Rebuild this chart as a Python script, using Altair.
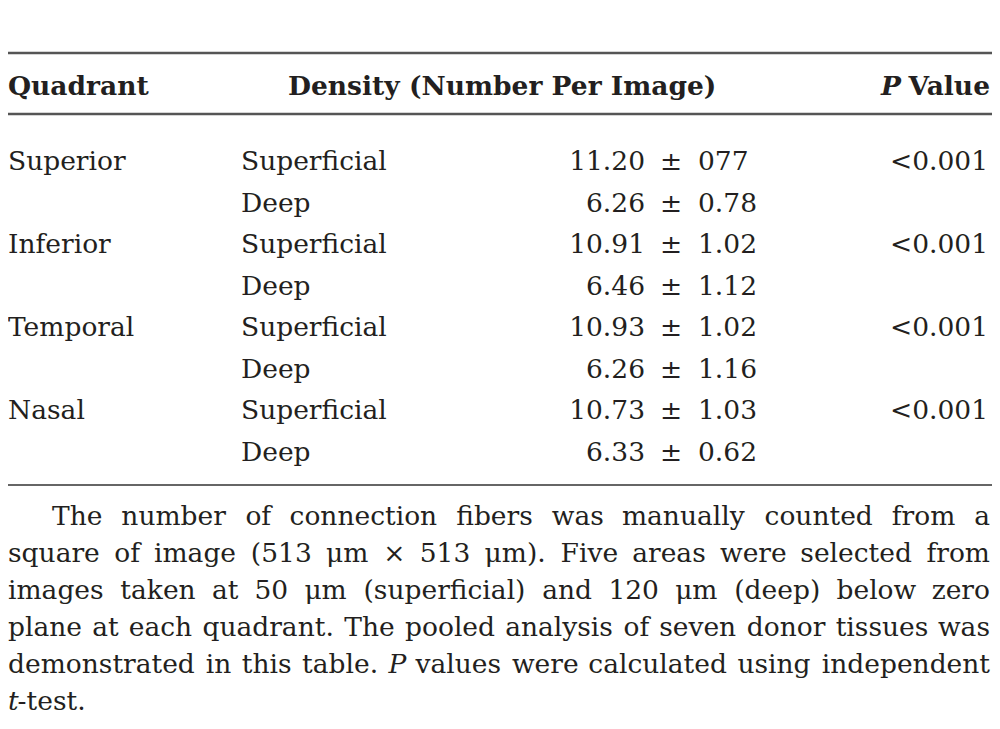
import altair as alt
import pandas as pd

# ---------------- data ----------------
quadrants = ["Superior", "Inferior", "Temporal", "Nasal"]
layers = ["Superficial", "Deep"]
means = ["11.20", "6.26", "10.91", "6.46", "10.93", "6.26", "10.73", "6.33"]
sds = ["077", "0.78", "1.02", "1.12", "1.02", "1.16", "1.03", "0.62"]
p_values = ["<0.001", "<0.001", "<0.001", "<0.001"]
header_quadrant = "Quadrant"
header_density = "Density (Number Per Image)"
header_p = "P"
header_value = "Value"
footnote_lines = [
    "The number of connection fibers was manually counted from a",
    "square of image (513 \u03bcm \u00d7 513 \u03bcm). Five areas were selected from",
    "images taken at 50 \u03bcm (superficial) and 120 \u03bcm (deep) below zero",
    "plane at each quadrant. The pooled analysis of seven donor tissues was",
    "demonstrated in this table. P values were calculated using independent",
]
footnote_italic_words = {(4, 4)}          # (line, word) -> the italic "P"
footnote_last = ["t", "-test."]           # "t" italic

# ---------------- layout ----------------
FONT = "DejaVu Serif"
FS = 26.5
INK = "#231f20"
W, H = 984, 713
X0, X1 = 8, 992            # page coordinates covered by the chart
X_LEFT = 8
X_INDENT = 52
X_LAYER = 241
X_MEAN_R = 645
X_PM = 671
X_SD_L = 698
X_P_R = 988
X_RIGHT = 990
X_DENS = 288
X_HP = 881
Y_TOP_RULE = 53
Y_HEAD = 95
Y_HEAD_RULE = 114
Y_ROW0 = 170
ROW_STEP = 41.5
Y_BOTTOM_RULE = 485
Y_FOOT0 = 525
FOOT_STEP = 37

# approximate advance widths of DejaVu Serif (units per 2048 em), used to justify the note
ADV = {" ": 651, "a": 1221, "b": 1313, "c": 1147, "d": 1313, "e": 1212, "f": 740,
       "g": 1313, "h": 1331, "i": 655, "j": 627, "k": 1237, "l": 655, "m": 1982,
       "n": 1331, "o": 1233, "p": 1313, "q": 1313, "r": 979, "s": 1051, "t": 821,
       "u": 1331, "v": 1186, "w": 1702, "x": 1186, "y": 1186, "z": 1075,
       "T": 1374, "F": 1382, "P": 1290, "(": 799, ")": 799, ".": 651, ",": 651,
       "-": 739, "\u00d7": 1716, "\u03bc": 1339}
for d in "0123456789":
    ADV[d] = 1303


def word_width(w):
    return sum(ADV.get(c, 1250) for c in w) * FS / 2048.0


xs = alt.Scale(domain=[X0, X1], nice=False, zero=False)
ys = alt.Scale(domain=[8, 8 + H], reverse=True, nice=False, zero=False)


def text_layer(rows, align="left", weight="normal", style="normal"):
    df = pd.DataFrame(rows, columns=["x", "y", "text"])
    return alt.Chart(df).mark_text(
        align=align, baseline="alphabetic", font=FONT, fontSize=FS,
        fontWeight=weight, fontStyle=style, color=INK,
    ).encode(
        x=alt.X("x:Q", scale=xs, axis=None),
        y=alt.Y("y:Q", scale=ys, axis=None),
        text="text:N",
    )


def row_y(i):
    return Y_ROW0 + i * ROW_STEP


left_rows = []
right_rows = []
italic_rows = []
for qi, q in enumerate(quadrants):
    left_rows.append((X_LEFT, row_y(2 * qi), q))
for i in range(len(means)):
    left_rows.append((X_LAYER, row_y(i), layers[i % 2]))

# justified footnote lines (word by word)
for li, line in enumerate(footnote_lines):
    words = line.split(" ")
    start = X_INDENT if li == 0 else X_LEFT
    widths = [word_width(w) for w in words]
    gap = (X_RIGHT - start - sum(widths)) / (len(words) - 1)
    x = start
    for wi, w in enumerate(words):
        y = Y_FOOT0 + li * FOOT_STEP
        if wi == len(words) - 1:
            right_rows.append((X_RIGHT, y, w))
        elif (li, wi) in footnote_italic_words:
            italic_rows.append((x, y, w))
        else:
            left_rows.append((x, y, w))
        x += widths[wi] + gap

y_last = Y_FOOT0 + len(footnote_lines) * FOOT_STEP
italic_rows.append((X_LEFT, y_last, footnote_last[0]))
left_rows.append((X_LEFT + word_width(footnote_last[0]) - 1, y_last, footnote_last[1]))

sd_rows = [(X_SD_L, row_y(i), sds[i]) for i in range(len(sds))]
mean_rows = [(X_MEAN_R, row_y(i), means[i]) for i in range(len(means))]
pm_rows = [(X_PM, row_y(i), "\u00b1") for i in range(len(means))]
p_rows = [(X_P_R, row_y(2 * qi), p_values[qi]) for qi in range(len(p_values))]

bold_left = [(X_LEFT, Y_HEAD, header_quadrant), (X_DENS, Y_HEAD, header_density)]
bold_right = [(X_RIGHT, Y_HEAD, header_value)]
bold_italic = [(X_HP, Y_HEAD, header_p)]

rules_thick = pd.DataFrame({"x": [X0, X0], "x2": [X1, X1], "y": [Y_TOP_RULE, Y_HEAD_RULE]})
rules_thin = pd.DataFrame({"x": [X0], "x2": [X1], "y": [Y_BOTTOM_RULE]})

rule_a = alt.Chart(rules_thick).mark_rule(color="#555555", strokeWidth=2.5).encode(
    x=alt.X("x:Q", scale=xs, axis=None), x2="x2:Q", y=alt.Y("y:Q", scale=ys, axis=None)
)
rule_b = alt.Chart(rules_thin).mark_rule(color="#333333", strokeWidth=1.6).encode(
    x=alt.X("x:Q", scale=xs, axis=None), x2="x2:Q", y=alt.Y("y:Q", scale=ys, axis=None)
)

chart = alt.layer(
    rule_a,
    rule_b,
    text_layer(left_rows),
    text_layer(right_rows, align="right"),
    text_layer(sd_rows),
    text_layer(mean_rows, align="right"),
    text_layer(pm_rows, align="center"),
    text_layer(p_rows, align="right"),
    text_layer(italic_rows, style="italic"),
    text_layer(bold_left, weight="bold"),
    text_layer(bold_right, align="right", weight="bold"),
    text_layer(bold_italic, weight="bold", style="italic"),
).properties(
    width=W, height=H, autosize=alt.AutoSizeParams(type="none"), padding=0,
    background="white",
).configure_view(stroke=None)

chart.save("out.html", embed_options={"renderer": "svg", "actions": False})
